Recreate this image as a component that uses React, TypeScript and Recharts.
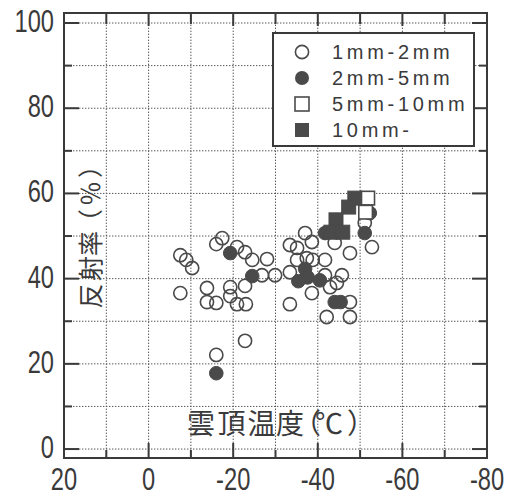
import React from 'react';
import { ScatterChart, Scatter, XAxis, YAxis, ReferenceLine, ReferenceArea, Legend } from 'recharts';

const openCircles = [
  [-7.5, 45.5], [-8.9, 44.4], [-10.3, 42.5], [-7.5, 36.6], [-13.8, 37.8], [-13.8, 34.5], [-16.0, 34.3],
  [-16.0, 48.1], [-17.4, 49.5], [-20.9, 47.4], [-22.8, 46.2], [-24.5, 44.4], [-19.3, 38.0], [-19.3, 35.9],
  [-20.9, 34.0], [-23.0, 34.0], [-22.8, 38.3], [-22.8, 25.4], [-16.0, 22.1], [-28.0, 44.6], [-26.8, 40.8],
  [-29.9, 40.8], [-33.4, 47.9], [-35.1, 47.2], [-37.0, 50.7], [-38.6, 48.6], [-35.1, 44.4], [-37.4, 44.8],
  [-38.8, 44.4], [-41.7, 44.4], [-33.4, 41.5], [-37.4, 40.4], [-41.7, 40.8], [-42.9, 38.0], [-44.5, 39.0],
  [-45.7, 40.8], [-38.6, 36.6], [-33.4, 34.0], [-47.6, 34.5], [-42.1, 31.0], [-47.6, 31.0], [-44.0, 48.4],
  [-47.6, 46.0], [-52.8, 47.4], [-51.1, 53.1],
].map(([x, y]) => ({ x, y }));

const filledCircles = [
  [-19.3, 46.0], [-24.5, 40.6], [-52.3, 55.4], [-51.1, 50.7], [-41.7, 50.7], [-37.0, 42.3],
  [-35.4, 39.4], [-37.6, 40.3], [-40.5, 39.6], [-44.0, 34.5], [-45.4, 34.5], [-16.0, 17.8],
].map(([x, y]) => ({ x, y }));

const openSquares = [[-51.8, 58.9], [-51.3, 55.6]].map(([x, y]) => ({ x, y }));

const filledSquares = [
  [-48.75, 58.9], [-47.3, 56.8], [-44.3, 53.8], [-43.1, 50.9], [-45.9, 50.9],
].map(([x, y]) => ({ x, y }));

const xTicks = [20, 0, -20, -40, -60, -80];
const yTicks = [0, 20, 40, 60, 80, 100];
const xGrid = [10, 0, -10, -20, -30, -40, -50, -60, -70];
const yGrid = [0, 10, 20, 30, 40, 50, 60, 70, 80, 90, 100];
const xTickMarks = [10, 0, -10, -20, -30, -40, -50, -60, -70];
const yTickMarks = [0, 10, 20, 30, 40, 50, 60, 70, 80, 90, 100];

const legendItems = ['1mm-2mm', '2mm-5mm', '5mm-10mm', '10mm-'];
const xLabel = ['雲', '頂', '温', '度', '（', '℃', '）'];
const xLabelPos = [187, 217.5, 247.5, 276, 293, 315, 347];
const yLabel = ['反', '射', '率', '（', '％', '）'];
const yLabelPos = [1.5, 29, 54, 76, 104, 132];

const X_MIN = -80;
const X_MAX = 20;
const Y_MIN = -2.1;
const Y_MAX = 102.35;
const PX_X = 423 / 100;
const PX_Y = 445 / (Y_MAX - Y_MIN);

const INK = '#3a3a3a';
const MARK = '#4a4a4a';
const numFont = "'Liberation Sans', Arial, sans-serif";
const cjkFont = "'Noto Sans CJK JP', 'Noto Sans CJK SC', sans-serif";

const OpenCircle = (p: any) => <circle cx={p.cx} cy={p.cy} r={6.6} fill="none" stroke={MARK} strokeWidth={1.6} />;
const FilledCircle = (p: any) => <circle cx={p.cx} cy={p.cy} r={6.8} fill={MARK} stroke={MARK} strokeWidth={1} />;
const OpenSquare = (p: any) => <rect x={p.cx - 6.8} y={p.cy - 6.8} width={13.6} height={13.6} fill="#fff" stroke={MARK} strokeWidth={1.6} />;
const FilledSquare = (p: any) => <rect x={p.cx - 7} y={p.cy - 7} width={14} height={14} fill={MARK} stroke={MARK} strokeWidth={1} />;

const XTick = (p: any) => (
  <text transform={`translate(${p.x} ${p.y + 32}) scale(0.74 1)`} textAnchor="middle" fontFamily={numFont} fontSize={32} fill={INK}>
    {p.payload.value}
  </text>
);
const YTick = (p: any) => (
  <text transform={`translate(${p.x - 10} ${p.y + 9}) scale(0.74 1)`} textAnchor="end" fontFamily={numFont} fontSize={32} fill={INK}>
    {p.payload.value}
  </text>
);

const LegendBox = () => (
  <div style={{ width: 199, height: 111, border: `2px solid ${INK}`, background: '#fff', boxSizing: 'content-box' }}>
    {legendItems.map((name, i) => (
      <div key={name} style={{ position: 'absolute', left: 0, top: 8 + i * 26, height: 24, display: 'flex', alignItems: 'center' }}>
        <svg width={60} height={24} style={{ display: 'block' }}>
          {i === 0 && <circle cx={30} cy={12} r={6.6} fill="none" stroke={MARK} strokeWidth={1.6} />}
          {i === 1 && <circle cx={30} cy={12} r={7} fill={MARK} />}
          {i === 2 && <rect x={23} y={5} width={14} height={14} fill="#fff" stroke={MARK} strokeWidth={1.6} />}
          {i === 3 && <rect x={23} y={5} width={14} height={14} fill={MARK} />}
        </svg>
        <span style={{ fontFamily: "'Liberation Sans', Arial, sans-serif", fontSize: 20, letterSpacing: 3.7, color: INK, lineHeight: '24px' }}>
          {name}
        </span>
      </div>
    ))}
  </div>
);

export default function App() {
  const majorLen = 15;
  const minorLen = 8;
  return (
    <div style={{ position: 'absolute', left: 0, top: 0, width: 513, height: 496, background: '#fff' }}>
      <ScatterChart width={513} height={496} margin={{ top: 13, right: 26, bottom: 0, left: 0 }}>
        <XAxis
          type="number"
          dataKey="x"
          domain={[X_MIN, X_MAX]}
          reversed
          allowDataOverflow
          ticks={xTicks}
          interval={0}
          height={38}
          axisLine={false}
          tickLine={false}
          tickSize={0}
          tickMargin={0}
          tick={<XTick />}
        />
        <YAxis
          type="number"
          dataKey="y"
          domain={[Y_MIN, Y_MAX]}
          allowDataOverflow
          ticks={yTicks}
          interval={0}
          width={64}
          axisLine={false}
          tickLine={false}
          tickSize={0}
          tickMargin={0}
          tick={<YTick />}
        />
        {xGrid.map((v) => (
          <ReferenceLine key={'gx' + v} x={v} stroke="#555" strokeWidth={1} strokeDasharray="1.4 1.6" />
        ))}
        {yGrid.map((v) => (
          <ReferenceLine key={'gy' + v} y={v} stroke="#555" strokeWidth={1} strokeDasharray="1.4 1.6" />
        ))}
        {xTickMarks.map((v) => {
          const major = v % 20 === 0;
          const lb = (major ? majorLen : minorLen) / PX_Y;
          const lt = (major ? 13 : 11) / PX_Y;
          return (
            <React.Fragment key={'tx' + v}>
              <ReferenceLine segment={[{ x: v, y: Y_MIN }, { x: v, y: Y_MIN + lb }]} stroke={INK} strokeWidth={2} />
              <ReferenceLine segment={[{ x: v, y: Y_MAX }, { x: v, y: Y_MAX - lt }]} stroke={INK} strokeWidth={2} />
            </React.Fragment>
          );
        })}
        {yTickMarks.map((v) => {
          const major = v % 20 === 0;
          const l = (major ? majorLen : minorLen) / PX_X;
          return (
            <React.Fragment key={'ty' + v}>
              <ReferenceLine segment={[{ x: X_MAX, y: v }, { x: X_MAX - l, y: v }]} stroke={INK} strokeWidth={2} />
              <ReferenceLine segment={[{ x: X_MIN, y: v }, { x: X_MIN + l, y: v }]} stroke={INK} strokeWidth={2} />
            </React.Fragment>
          );
        })}
        <ReferenceArea x1={X_MAX} x2={X_MIN} y1={Y_MIN} y2={Y_MAX} fill="none" stroke={INK} strokeWidth={2} />
        <Scatter name="1mm-2mm" data={openCircles} shape={OpenCircle} isAnimationActive={false} />
        <Scatter name="2mm-5mm" data={filledCircles} shape={FilledCircle} isAnimationActive={false} />
        <Scatter name="5mm-10mm" data={openSquares} shape={OpenSquare} isAnimationActive={false} />
        <Scatter name="10mm-" data={filledSquares} shape={FilledSquare} isAnimationActive={false} />
        <Legend
          layout="vertical"
          align="center"
          verticalAlign="middle"
          content={<LegendBox />}
          wrapperStyle={{ position: 'absolute', left: 272, top: 32, width: 203, height: 115 }}
        />
        <text y={433.5} fontFamily={cjkFont} fontSize={28} fill={INK}>
          {xLabel.map((ch, i) => (
            <tspan key={i} x={xLabelPos[i]}>{ch}</tspan>
          ))}
        </text>
        <text transform="translate(100 310) rotate(-90)" y={0} fontFamily={cjkFont} fontSize={25} fill={INK}>
          {yLabel.map((ch, i) => (
            <tspan key={i} x={yLabelPos[i]}>{ch}</tspan>
          ))}
        </text>
      </ScatterChart>
    </div>
  );
}
